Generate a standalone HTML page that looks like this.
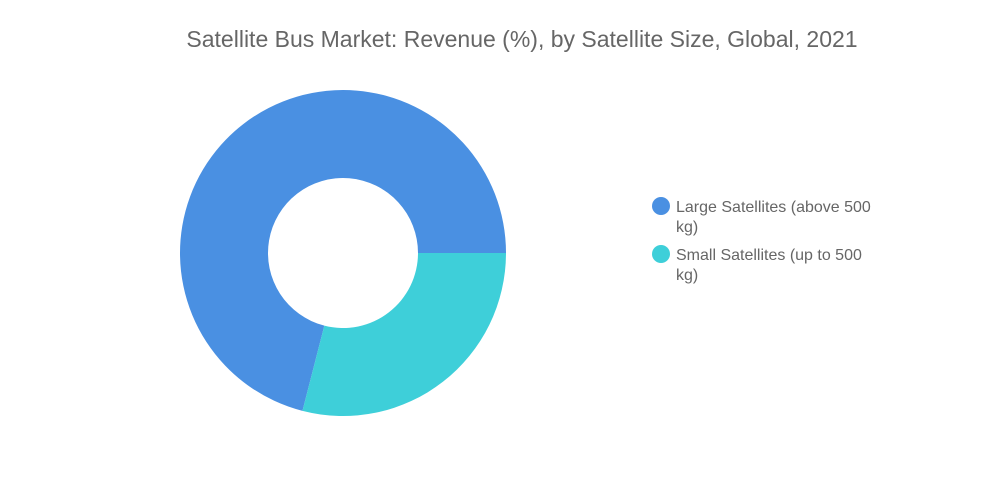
<!DOCTYPE html>
<html><head><meta charset="utf-8"><style>
body{margin:0;background:#fff;font-family:"Liberation Sans",sans-serif;}
#wrap{position:relative;width:1000px;height:504px;overflow:hidden;}
</style></head><body>
<div id="wrap">
<svg id="chart" width="1000" height="504">
<text x="522" y="47" text-anchor="middle" font-size="23" fill="#666">Satellite Bus Market: Revenue (%), by Satellite Size, Global, 2021</text>
<g id="slices"></g>
<g id="legend"></g>
</svg>
</div>
<script>
const categories = ["Large Satellites (above 500 kg)", "Small Satellites (up to 500 kg)"];
const values = [71, 29];
const legendLines = [["Large Satellites (above 500", "kg)"], ["Small Satellites (up to 500", "kg)"]];
const colors = ["#4a90e2", "#3ecfd9"];
const cx = 343, cy = 253, R = 163, r = 75;
const NS = "http://www.w3.org/2000/svg";
const total = values.reduce((a,b)=>a+b,0);
let start = -values[0]/total*2*Math.PI;
const g = document.getElementById('slices');
function pt(rad,a){return [cx+rad*Math.cos(a), cy+rad*Math.sin(a)];}
values.forEach((v,i)=>{
  const a0 = start, a1 = start + v/total*2*Math.PI; start = a1;
  const large = (a1-a0) > Math.PI ? 1 : 0;
  const [x0,y0]=pt(R,a0),[x1,y1]=pt(R,a1),[x2,y2]=pt(r,a1),[x3,y3]=pt(r,a0);
  const p = document.createElementNS(NS,'path');
  p.setAttribute('d',`M${x0},${y0}A${R},${R} 0 ${large} 1 ${x1},${y1}L${x2},${y2}A${r},${r} 0 ${large} 0 ${x3},${y3}Z`);
  p.setAttribute('fill',colors[i]);
  
  
  g.appendChild(p);
});
const lg = document.getElementById('legend');
categories.forEach((c,i)=>{
  const y = 206 + i*48;
  const e = document.createElementNS(NS,'g');
  
  
  const ci = document.createElementNS(NS,'circle');
  ci.setAttribute('cx',661); ci.setAttribute('cy',y); ci.setAttribute('r',9);
  ci.setAttribute('fill',colors[i]);
  
  
  e.appendChild(ci);
  legendLines[i].forEach((t,j)=>{
    const tx = document.createElementNS(NS,'text');
    tx.setAttribute('x',676); tx.setAttribute('y',y+6+j*20);
    tx.setAttribute('font-size',16); tx.setAttribute('fill','#666');
    
    
    tx.textContent = t;
    e.appendChild(tx);
  });
  lg.appendChild(e);
});
</script>
</body></html>
